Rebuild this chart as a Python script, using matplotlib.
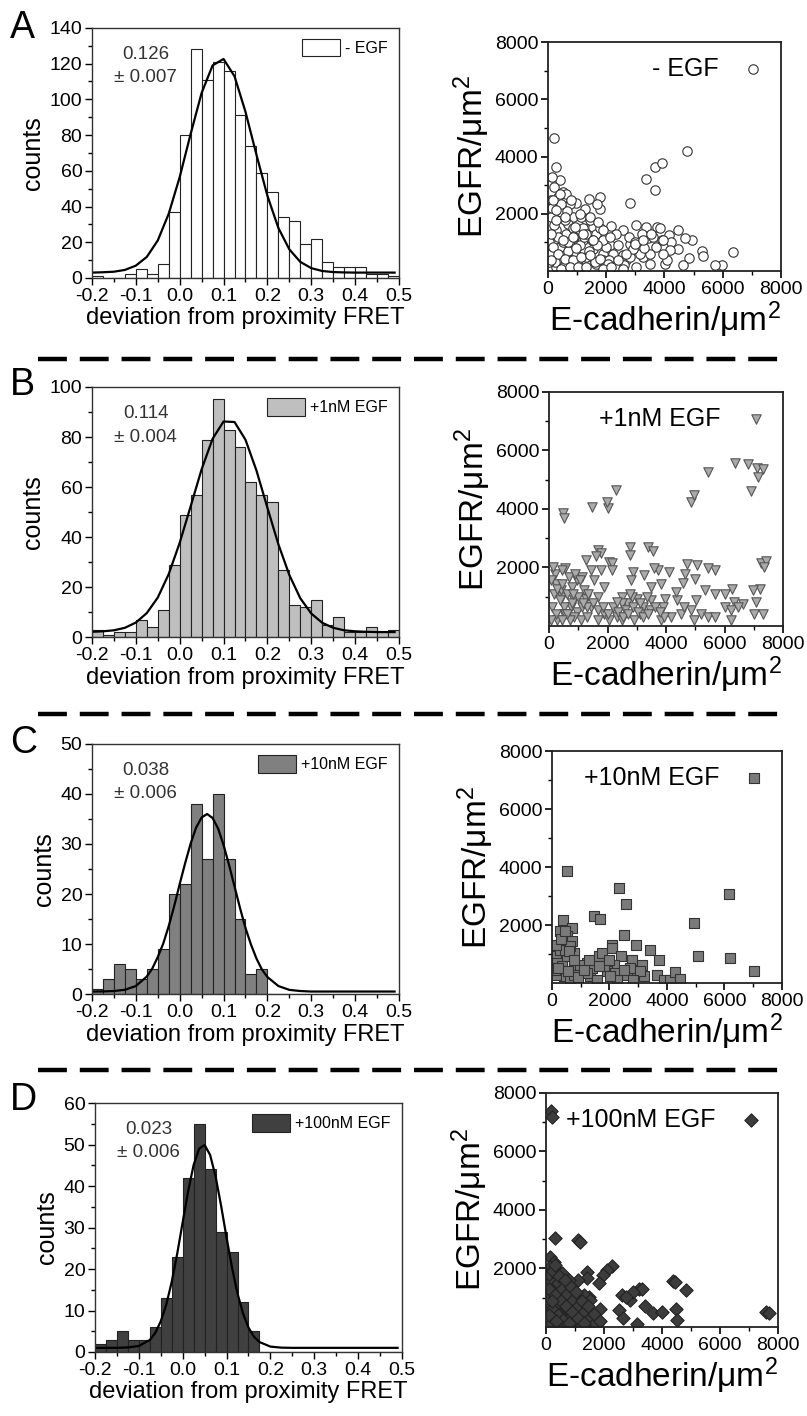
import numpy as np
import matplotlib
matplotlib.use("Agg")
import matplotlib.pyplot as plt
from matplotlib.lines import Line2D

plt.rcParams['font.family'] = ['Liberation Sans', 'DejaVu Sans']
plt.rcParams['mathtext.fontset'] = 'custom'
plt.rcParams['mathtext.rm'] = 'Liberation Sans'
plt.rcParams['mathtext.it'] = 'Liberation Sans'

# histogram bins: 0.025 wide, from -0.2 to 0.5
bin_left = np.arange(-0.2, 0.4999, 0.025)

counts_a = [1, 0, 0, 2, 5, 2, 8, 37, 80, 128, 111, 121, 116, 91, 74, 59,
            48, 34, 32, 19, 22, 9, 6, 6, 6, 2, 2, 1]
counts_b = [3, 1, 2, 2, 7, 4, 11, 29, 49, 57, 79, 95, 83, 76, 62, 57,
            54, 27, 13, 12, 15, 5, 8, 2, 2, 4, 2, 3]
counts_c = [1, 3, 6, 5, 3, 5, 9, 20, 22, 38, 27, 40, 27, 15, 4, 5,
            0, 0, 0, 0, 0, 0, 0, 0, 0, 0, 0, 0]
counts_d = [2, 3, 5, 3, 3, 6, 13, 23, 42, 55, 44, 29, 24, 12, 5, 0,
            0, 0, 0, 0, 0, 0, 0, 0, 0, 0, 0, 0]

# gaussian fit lines
fit_x_ab = [-0.2, -0.175, -0.15, -0.125, -0.1, -0.075, -0.05, -0.025, 0.0,
            0.025, 0.05, 0.075, 0.1, 0.125, 0.15, 0.175, 0.2, 0.225, 0.25,
            0.275, 0.3, 0.325, 0.35, 0.375, 0.4, 0.425, 0.45, 0.475, 0.49]
fit_y_a = [3.0, 3.2, 3.5, 4.5, 6.9, 11.8, 21, 36, 56.5, 80.7, 103.6, 119,
           122.6, 112.9, 93, 69, 46, 28, 16, 9, 5.5, 3.9, 3.3, 3.1, 3, 3,
           3, 3, 3]
fit_y_b = [2.1, 2.3, 2.7, 3.7, 5.8, 9.6, 15.8, 25.2, 37.7, 52.3, 67.1, 79.3,
           86.2, 86, 78.9, 66.6, 51.7, 37.1, 24.8, 15.5, 9.4, 5.7, 3.7, 2.7,
           2.3, 2.1, 2, 2, 2]
fit_x_c = [-0.2, -0.175, -0.15, -0.125, -0.1, -0.075, -0.0625, -0.05,
           -0.0375, -0.025, -0.0125, 0.0, 0.0125, 0.025, 0.0375, 0.05,
           0.0625, 0.075, 0.0875, 0.1, 0.1125, 0.125, 0.1375, 0.15, 0.1625,
           0.175, 0.1875, 0.2, 0.225, 0.25, 0.275, 0.3, 0.35, 0.4, 0.45, 0.49]
fit_y_c = [0.5, 0.52, 0.6, 0.85, 1.6, 3.5, 5.1, 7.4, 10.1, 13.6, 17.6, 22,
           26.2, 30.1, 33.3, 35.3, 36.0, 35.2, 33.1, 29.8, 25.8, 21.5, 17.2,
           13.2, 9.9, 7.1, 4.9, 3.4, 1.6, 0.83, 0.6, 0.5, 0.5, 0.5, 0.5, 0.5]
fit_x_d = [-0.2, -0.175, -0.15, -0.125, -0.1, -0.075, -0.0625, -0.05,
           -0.0375, -0.025, -0.0125, 0.0, 0.0125, 0.025, 0.0375, 0.05,
           0.0625, 0.075, 0.0875, 0.1, 0.1125, 0.125, 0.1375, 0.15, 0.1625,
           0.175, 0.2, 0.225, 0.25, 0.3, 0.35, 0.4, 0.45, 0.49]
fit_y_d = [1.0, 1.0, 1.01, 1.1, 1.45, 2.9, 4.6, 7.4, 11.4, 16.9, 23.7, 31.3,
           38.8, 45.1, 49.0, 49.9, 47.5, 42.3, 35.3, 27.6, 20.3, 14.1, 9.3,
           5.9, 3.7, 2.4, 1.3, 1.05, 1, 1, 1, 1, 1, 1]

labels = ['- EGF', '+1nM EGF', '+10nM EGF', '+100nM EGF']
means = ['0.126', '0.114', '0.038', '0.023']
errors = ['0.007', '0.004', '0.006', '0.006']

# scatter points (E-cadherin, EGFR) per condition
ecad_a = [200, 290, 400, 3360, 3680, 3920, 3670, 4780, 2830, 6340, 5990, 5730,
          5305, 5330, 4940, 4690, 4450, 4170, 4450, 4220, 4850, 4640, 4020,
          3760, 3840, 3380, 3040, 3440, 3220, 2810, 2580, 2180, 2350, 2120,
          1780, 1800, 1410, 1680, 975, 745, 515, 345, 195, 140, 1260, 1320,
          860, 460, 690, 1090, 1550, 1660, 290, 230, 400, 745, 1200, 975,
          1550, 1890, 2000, 1320, 860, 515, 290, 1660, 2350, 2690, 3040, 3270,
          3500, 2580, 2810, 3150, 2920, 170, 115, 115, 630, 1030, 1890, 2230,
          3720, 3500, 100, 300, 500, 700, 900, 1100, 1300, 1500, 1700, 1900,
          200, 600, 800, 1000, 1200, 1400, 1600, 1800, 2100, 2400, 2600, 2800,
          3000, 3300, 3600, 3900, 4100, 150, 350, 650, 850, 1150, 250, 1050,
          1450, 700, 950, 1250, 50, 50,
          115, 290, 460, 630, 800, 1090, 1430, 1720, 1890, 2120, 1320, 860,
          515, 170, 345, 575, 860, 1150, 1430, 1780, 2060, 2410, 2690, 2980,
          3270, 3550, 3950, 4180, 3950, 115, 460, 745, 1030, 1320, 1890, 2180,
          2580, 290, 575, 920, 1200, 1550, 170, 400]
egfr_a = [4650, 3630, 3170, 3220, 3630, 3780, 2820, 4200, 2375, 660, 220, 220,
          700, 510, 1100, 1150, 1420, 1245, 780, 1010, 465, 200, 255, 1540,
          1510, 1540, 1595, 1160, 1300, 955, 1420, 1560, 1300, 900, 2580, 2180,
          2500, 2330, 2375, 2350, 2760, 2580, 2930, 3280, 2180, 1770, 1885,
          2060, 1650, 1420, 1540, 1300, 1420, 1070, 840, 900, 1070, 605, 780,
          605, 840, 255, 200, 255, 140, 255, 140, 370, 140, 490, 255, 550,
          490, 605, 780, 490, 1890, 2470, 1300, 1070, 1070, 605, 840, 605,
          600, 400, 1000, 700, 1200, 900, 500, 1100, 900, 400, 1600, 1800,
          400, 300, 1500, 700, 300, 1500, 400, 900, 200, 1200, 1000, 800,
          1200, 1100, 400, 2200, 1200, 2100, 1500, 1900, 300, 100, 1800, 1000,
          800, 1200, 1000, 300,
          1300, 1770, 2350, 2700, 2470, 2000, 1890, 1710, 1420, 1190, 1300,
          1190, 1070, 840, 605, 430, 370, 490, 550, 430, 255, 370, 605, 955,
          1070, 1300, 1070, 720, 605, 370, 80, 140, 140, 140, 80, 140, 80,
          2120, 1890, 1540, 1300, 1070, 2470, 2700]

ecad_b = [1486, 2030, 1970, 2290, 480, 500, 4860, 4970, 5450, 6360, 6800,
          7110, 7320, 7140, 6920, 7260, 7430, 7340, 7200, 6990, 7090, 7000,
          7310, 6230, 6250, 6000, 6340, 6630, 5680, 5430, 5070, 4710, 4650,
          5000, 4590, 5340, 5690, 5030, 4370, 3970, 3740, 4100, 3600, 3820,
          3480, 3250, 2860, 2810, 2770, 2770, 3380, 3570, 1690, 1780, 1620,
          1270, 1430, 1770, 2060, 2170, 2170, 1890, 1540, 1140, 970, 800,
          1200, 540, 190, 230, 460, 860, 1260, 1660, 110, 510, 970, 1430,
          1890, 2310, 2650, 3000, 3220, 2480, 2830, 3460, 3910, 4170, 3830,
          2910, 4510, 4850, 5200, 5430, 5660, 2060, 1090, 290, 4620, 4340,
          2480, 690, 400, 740, 170, 1140, 1310, 1660, 2600, 3110, 3480, 3940,
          6000, 6230, 6460, 4960, 2480, 1310, 860, 510,
          80, 260, 430, 600, 770, 1000, 1170, 1340, 1510, 1690, 1860, 2030,
          2200, 2370, 2540, 2710, 2880, 3050, 3220, 3400, 3620, 3800, 370,
          540, 710, 880, 1050, 430, 140, 600, 830, 250, 80, 430, 2310, 2770,
          3110, 3340]
egfr_b = [4080, 4020, 4230, 4650, 3850, 3680, 4250, 4480, 5260, 5570, 5540,
          5400, 5370, 5110, 4620, 2140, 2230, 2020, 1280, 1220, 820, 400,
          400, 195, 1280, 1110, 820, 765, 1910, 1990, 2080, 2110, 1790, 1590,
          1470, 1220, 1110, 880, 880, 940, 1910, 1850, 1990, 1450, 1340, 1740,
          1850, 1570, 2710, 2420, 2710, 2560, 2590, 2510, 2390, 2250, 1930,
          1910, 2190, 2140, 1910, 1340, 1570, 1660, 1570, 1340, 1220, 1970,
          1790, 1450, 990, 880, 940, 990, 650, 420, 480, 650, 420, 310, 770,
          940, 650, 990, 990, 540, 650, 310, 195, 195, 420, 540, 420, 310,
          310, 195, 195, 195, 650, 1170, 770, 1680, 1220, 650, 1110, 650, 310,
          195, 540, 420, 880, 310, 650, 540, 650, 195, 195, 650, 310, 650,
          1570, 1280, 1450, 1110, 770, 990, 770, 1110, 770, 540, 650, 420,
          650, 480, 310, 420, 650, 480, 310, 420, 650, 480, 880, 420, 195,
          1790, 1570, 1910, 2020, 420, 1110, 420, 195, 195, 820, 1110, 770,
          990]

ecad_c = [520, 2320, 2580, 6140, 6180, 7040, 4930, 5070, 1450, 1680, 380, 270,
          700, 520, 700, 350, 770, 520, 150, 170, 870, 1220, 1510, 1620, 1740,
          2090, 2090, 2490, 2410, 2140, 1910, 2200, 2780, 2910, 3140, 3420,
          3720, 3650, 3880, 4110, 4290, 4440, 2950, 2610, 1330, 1040, 410, 150,
          640, 1560, 2260, 3190, 2720, 1800, 1390, 990, 290, 460, 640, 120,
          350, 1220, 2490, 3070, 2830, 2030, 750,
          150, 300, 450, 600, 750, 200, 550, 900, 1100, 1300, 1650, 2000]
egfr_c = [3850, 3270, 2730, 3080, 850, 400, 2070, 940, 2300, 2200, 2180, 1810,
          1890, 1610, 1440, 1380, 1030, 920, 920, 690, 520, 690, 800, 920,
          1030, 1320, 1200, 1660, 920, 630, 400, 340, 800, 1320, 630, 1150,
          800, 290, 110, 110, 370, 140, 340, 290, 230, 400, 230, 290, 110, 110,
          110, 230, 520, 570, 520, 630, 1150, 1150, 1260, 460, 570, 340, 460,
          400, 110, 230, 290,
          1300, 1500, 1800, 1100, 800, 500, 400, 200, 450, 800, 600, 800]

ecad_d = [180, 210, 7600, 7690, 300, 1100, 1160, 2270, 2100, 1980, 1410, 1410,
          1120, 1470, 1810, 1870, 2610, 2900, 3190, 3300, 2990, 2750, 2500,
          2670, 3130, 3420, 3700, 3990, 4370, 4450, 4820, 4480, 4530, 150, 260,
          380, 520, 660, 780, 950, 1120, 1300, 1470, 1640, 150, 260, 440, 610,
          840, 1070, 150, 320, 150, 550, 720, 950, 1240, 1410, 380, 610, 840,
          1070, 550, 780, 150, 150, 890, 440, 780, 1240, 1640, 1750, 1180,
          1300, 1520, 660, 490, 1070,
          100, 250, 400, 550, 700, 900, 1100, 1300, 1500, 1700, 100, 300, 500,
          700, 900, 1100, 1300, 200, 400, 600, 800, 300, 450, 650, 850, 1050,
          1250, 1450, 1650, 1850, 200, 100, 350]
egfr_d = [7370, 7180, 510, 490, 3030, 2970, 2890, 2080, 1940, 1770, 1890, 1660,
          1620, 1030, 1490, 630, 1090, 910, 1310, 1310, 1200, 1030, 590, 290,
          90, 720, 460, 510, 1580, 1540, 1260, 630, 250, 2400, 2230, 1940,
          1660, 1490, 1310, 1140, 910, 690, 460, 230, 1600, 1140, 800, 570,
          340, 170, 690, 340, 110, 170, 970, 690, 400, 110, 1430, 1140, 800,
          570, 1830, 1600, 1140, 2060, 110, 60, 60, 60, 60, 110, 800, 1090,
          910, 800, 400, 910,
          1800, 1900, 1500, 1300, 1100, 900, 700, 500, 300, 150, 1300, 1100,
          900, 700, 500, 300, 150, 600, 400, 250, 120, 2100, 1750, 1600, 1350,
          1200, 900, 700, 450, 200, 900, 400, 200]


def hist_panel(ax, counts, fx, fy, color, label, mean, err, ymax, ystep):
    ax.bar(bin_left, counts, width=0.025, align='edge', color=color,
           edgecolor='#222222', linewidth=0.8, label=label)
    ax.plot(fx, fy, color='black', lw=1.6)
    ax.set_xlim(-0.2, 0.5)
    ax.set_ylim(0, ymax)
    ax.set_xticks(np.arange(-0.2, 0.51, 0.1))
    ax.set_xticklabels(['-0.2', '-0.1', '0.0', '0.1', '0.2', '0.3', '0.4', '0.5'])
    ax.set_xticks(np.arange(-0.15, 0.5, 0.1), minor=True)
    ax.set_yticks(np.arange(0, ymax + 1, ystep))
    ax.set_yticks(np.arange(ystep / 2, ymax, ystep), minor=True)
    ax.tick_params(direction='out', labelsize=14, length=5, width=1, pad=2)
    ax.tick_params(which='minor', direction='out', length=3, width=1)
    for s in ax.spines.values():
        s.set_linewidth(1.0)
        s.set_color('#333333')
    ax.set_xlabel('deviation from proximity FRET', fontsize=17, labelpad=2)
    ax.set_ylabel('counts', fontsize=18, labelpad=3)
    ax.text(0.175, 0.895, mean, transform=ax.transAxes, ha='center',
            va='center', fontsize=13.5, color='#333333')
    ax.text(0.175, 0.80, '± ' + err, transform=ax.transAxes, ha='center',
            va='center', fontsize=13.5, color='#333333')
    ax.legend(loc='upper right', frameon=False, fontsize=11.5,
              handlelength=2.4, handleheight=1.3, handletextpad=0.3,
              borderaxespad=0.3)
# one histogram with its gaussian fit, mean value and the legend box


def scatter_panel(ax, xs, ys, marker, face, edge, label):
    ax.scatter(xs, ys, s=46, marker=marker, facecolor=face, edgecolor=edge,
               linewidths=0.8, label=label)
    ax.set_xlim(0, 8000)
    ax.set_ylim(0, 8000)
    ax.set_xticks([0, 2000, 4000, 6000, 8000])
    ax.set_xticks([1000, 3000, 5000, 7000], minor=True)
    ax.set_yticks([2000, 4000, 6000, 8000])
    ax.set_yticks([1000, 3000, 5000, 7000], minor=True)
    ax.tick_params(direction='out', labelsize=14, length=5, width=1.2, pad=2)
    ax.tick_params(which='minor', direction='out', length=3, width=1)
    for s in ax.spines.values():
        s.set_linewidth(1.3)
        s.set_color('#222222')
    ax.set_xlabel('E-cadherin/μm$^2$', fontsize=24, labelpad=1)
    ax.set_ylabel('EGFR/μm$^2$', fontsize=24, labelpad=2)
    ax.legend(loc='upper right', frameon=False, fontsize=18, markerfirst=False,
              handlelength=1.0, handletextpad=0.9, borderaxespad=0.2,
              scatterpoints=1)
# one scatter plot of EGFR vs E-cadherin density


fig = plt.figure(figsize=(8.07, 14.16), dpi=100)

ax = fig.add_axes([0.114, 0.8037, 0.3804, 0.1766])
hist_panel(ax, counts_a, fit_x_ab, fit_y_a, 'white', labels[0], means[0], errors[0], 140, 20)
ax = fig.add_axes([0.114, 0.5501, 0.3804, 0.1766])
hist_panel(ax, counts_b, fit_x_ab, fit_y_b, '#bfbfbf', labels[1], means[1], errors[1], 100, 20)
ax = fig.add_axes([0.114, 0.2980, 0.3804, 0.1766])
hist_panel(ax, counts_c, fit_x_c, fit_y_c, '#808080', labels[2], means[2], errors[2], 50, 10)
ax = fig.add_axes([0.1177, 0.0452, 0.3804, 0.1758])
hist_panel(ax, counts_d, fit_x_d, fit_y_d, '#404040', labels[3], means[3], errors[3], 60, 10)

ax = fig.add_axes([0.679, 0.8086, 0.2887, 0.1617])
scatter_panel(ax, ecad_a, egfr_a, 'o', 'white', '#333333', labels[0])
ax = fig.add_axes([0.6803, 0.5579, 0.2900, 0.1653])
scatter_panel(ax, ecad_b, egfr_b, 'v', '#aaaaaa', '#555555', labels[1])
ax = fig.add_axes([0.684, 0.3058, 0.2850, 0.1638])
scatter_panel(ax, ecad_c, egfr_c, 's', '#7a7a7a', '#333333', labels[2])
ax = fig.add_axes([0.6766, 0.0629, 0.2875, 0.1653])
scatter_panel(ax, ecad_d, egfr_d, 'D', '#3c3c3c', '#222222', labels[3])

# panel letters and dashed separators between the rows
for letter, yb in zip(['A', 'B', 'C', 'D'], [0.9732, 0.7210, 0.4682, 0.2161]):
    fig.text(0.012, yb, letter, fontsize=27, va='baseline', ha='left')

for yp in [359, 714, 1070]:
    yf = 1 - yp / 1416
    fig.add_artist(Line2D([38 / 807, 782 / 807], [yf, yf], color='black',
                          lw=3.2, linestyle=(0, (6.5, 2.9)),
                          transform=fig.transFigure))

fig.savefig('out.png', dpi=100)
